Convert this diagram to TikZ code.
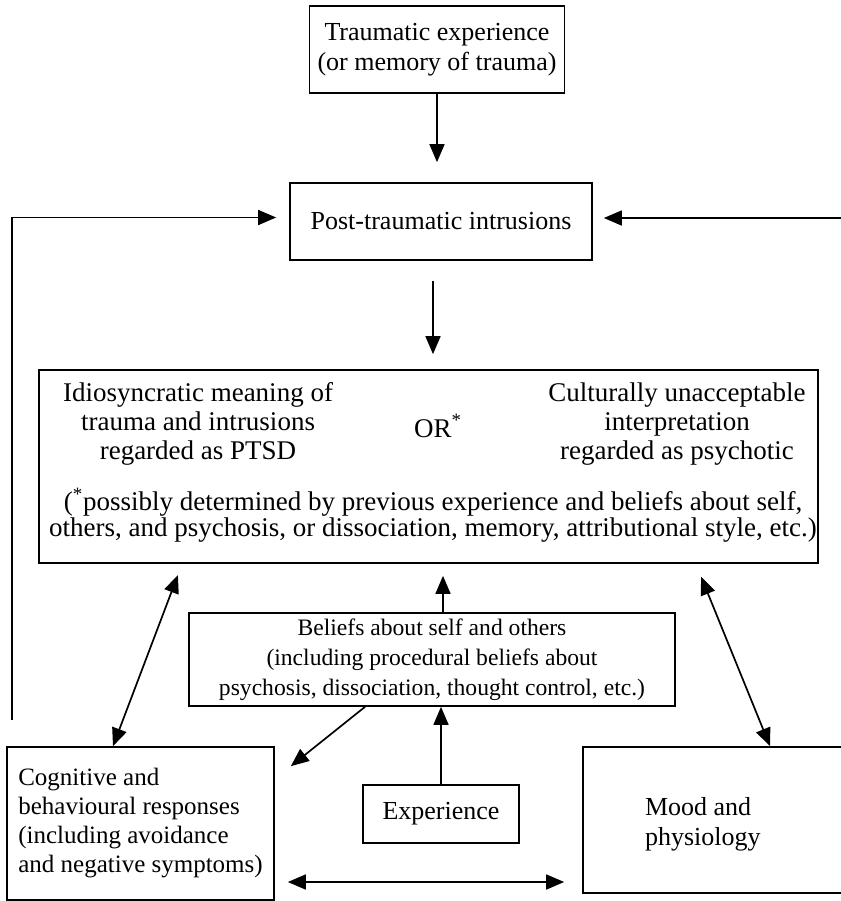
\documentclass[tikz,border=0pt]{standalone}
\usepackage{fontspec}
\setmainfont{Liberation Serif}
\usetikzlibrary{arrows.meta}

\begin{document}
\begin{tikzpicture}[x=0.5pt, y=-0.5pt, line width=0.85pt,
    >={Triangle[length=9pt, width=7.5pt]},
    box/.style={draw, inner sep=0pt, align=center, font=\fontsize{13}{15}\selectfont},
    txt/.style={inner sep=0pt, align=center, font=\fontsize{13.5}{14.5}\selectfont}]
    \useasboundingbox (0,0) rectangle (841,901);
    % Boxes, at pixel positions of the scan
    \node[box, minimum width=127.5pt, minimum height=43.5pt] (trauma) at (437,49.5)
        {Traumatic experience\\(or memory of trauma)};
    \node[box, minimum width=151pt, minimum height=38.5pt] (intrusions) at (441,221.5)
        {Post-traumatic intrusions};
    \node[box, minimum width=389.5pt, minimum height=96.5pt] (meaning) at (428.5,466.5) {};
    \node[txt] (ptsd) at (198,424) {Idiosyncratic meaning of\\trauma and intrusions\\regarded as PTSD};
    \node[txt] (or) at (438,426) {OR\textsuperscript{*}};
    \node[txt] (psychotic) at (677,424) {Culturally unacceptable\\interpretation\\regarded as psychotic};
    \node[txt, font=\fontsize{13.5}{13}\selectfont] (footnote) at (433,515)
        {(\textsuperscript{*}possibly determined by previous experience and beliefs about self,\\
         others, and psychosis, or dissociation, memory, attributional style, etc.)};
    \node[box, minimum width=243pt, minimum height=46.5pt, font=\fontsize{11.8}{15}\selectfont] (beliefs) at (432,659.5)
        {Beliefs about self and others\\(including procedural beliefs about\\psychosis, dissociation, thought control, etc.)};
    \node[box, minimum width=78pt, minimum height=29pt] (experience) at (441,814) {Experience};
    \node[box, align=left, font=\fontsize{12.5}{14.5}\selectfont, minimum width=133.5pt, minimum height=76.5pt] (cognitive) at (140.5,823.5)
        {Cognitive and\\behavioural responses\\(including avoidance\\and negative symptoms)};
    % mood box runs off the right edge of the page
    \node[box, minimum width=158.5pt, minimum height=73pt] (mood) at (741.5,820) {};
    \node[txt, anchor=west, align=left, font=\fontsize{13}{15}\selectfont] (moodlabel) at ([xshift=31pt, yshift=-2pt]mood.west) {Mood and\\physiology};

    % Arrows down the middle
    \draw[->, shorten >=10pt] (trauma) -- (trauma |- intrusions.north);
    \draw[->, shorten <=10pt, shorten >=7.5pt] ([xshift=-4pt]intrusions.south) -- ([xshift=-4pt]intrusions.south |- meaning.north);
    % Feedback loops into the intrusions
    \coordinate (loopL) at (12,720);
    \coordinate (loopR) at (841,218);
    \draw[->, shorten >=6.5pt] (loopL) |- ([yshift=2pt]intrusions.west);
    \draw[->, shorten >=5.5pt] (loopR) -- (loopR -| intrusions.east);
    % Links round the lower boxes
    \draw[<->, shorten <=6pt] ([xshift=72pt]meaning.south west) -- ([xshift=-13.75pt]cognitive.north);
    \draw[<->, shorten <=7pt] ([xshift=-61.5pt]meaning.south east) -- ([xshift=14.25pt]mood.north);
    \draw[->, shorten >=6pt] ([xshift=5.5pt]beliefs.north) -- ([xshift=5.5pt]beliefs.north |- meaning.south);
    \draw[->] ([xshift=-33.5pt]beliefs.south) -- ([xshift=8pt, yshift=-10pt]cognitive.north east);
    \draw[->] (experience.north) -- (experience.north |- beliefs.south);
    \coordinate (low) at (0,882);
    \draw[<->, shorten <=6.5pt, shorten >=9pt] (cognitive.east |- low) -- (mood.west |- low);
\end{tikzpicture}
\end{document}
